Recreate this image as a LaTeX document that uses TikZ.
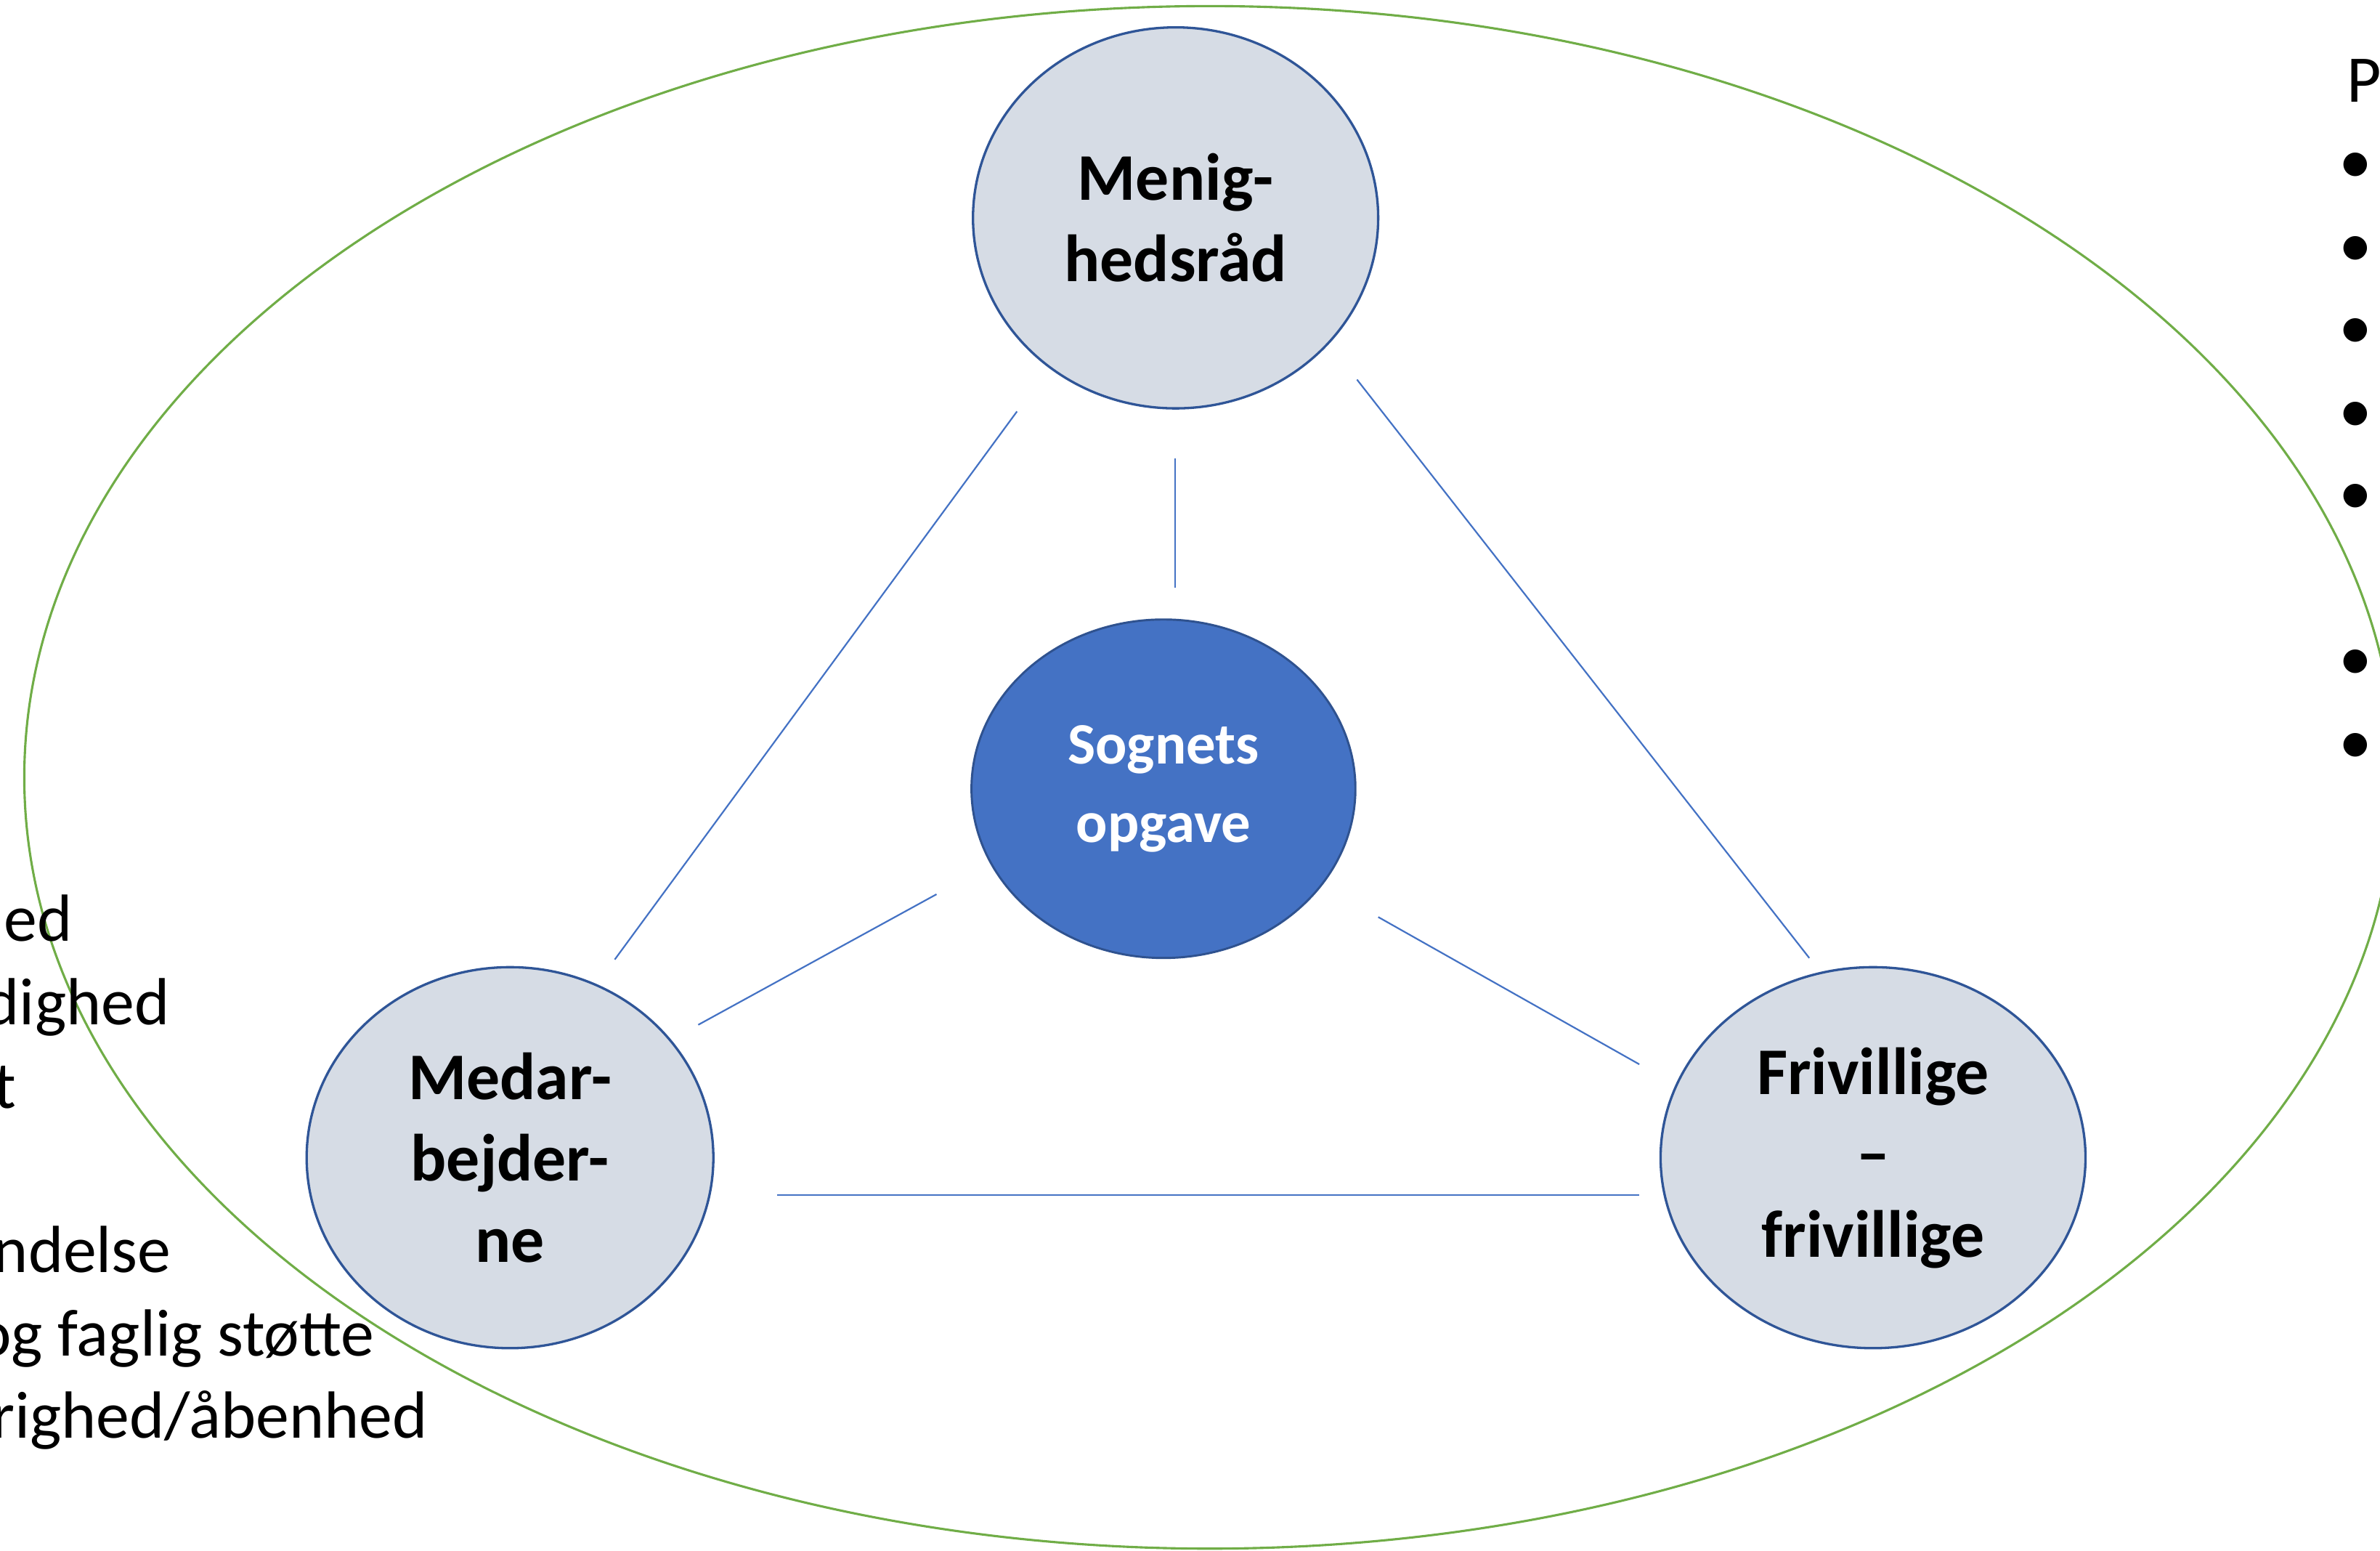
\documentclass[tikz,border=0pt]{standalone}
\usepackage{fontspec}
\setmainfont{Carlito}
\usetikzlibrary{shapes.geometric}
\definecolor{ringgreen}{HTML}{70AD47}
\definecolor{nodefill}{HTML}{D6DCE5}
\definecolor{nodeedge}{HTML}{2F5597}
\definecolor{centerfill}{HTML}{4472C4}
\definecolor{centeredge}{HTML}{2F528F}
\definecolor{linkblue}{HTML}{4472C4}
\begin{document}
\begin{tikzpicture}[x=0.02cm,y=-0.02cm,
  role/.style={ellipse, draw=nodeedge, line width=0.9pt, fill=nodefill, inner sep=0pt,
    align=center, font=\fontsize{25}{30.5}\selectfont\bfseries},
  core/.style={ellipse, draw=centeredge, line width=0.8pt, fill=centerfill, text=white,
    inner sep=0pt, align=center, font=\fontsize{22}{29.5}\selectfont\bfseries},
  link/.style={draw=linkblue, line width=0.6pt},
  sidetext/.style={inner sep=0pt, font=\fontsize{25}{31}\selectfont},
  bulletdot/.style={inner sep=0pt, anchor=base, font=\fontsize{25}{31}\selectfont},
]
\useasboundingbox (0,0) rectangle (1568,1021.55);
\clip (0,0) rectangle (1568,1021.55);

% outer ring
\draw[ringgreen, line width=0.85pt] (797,512) ellipse [x radius=781, y radius=508];

% nodes
\node[role, minimum width=5.34cm, minimum height=5.02cm] (mr) at (774.5,143.5) {Menig-\\hedsråd};
\node[core, minimum width=5.06cm, minimum height=4.46cm] (so) at (766.5,519.5) {Sognets\\opgave};
\node[role, minimum width=5.36cm, minimum height=5.02cm] (mb) at (336,762.5) {Medar-\\bejder-\\ne};
\node[role, minimum width=5.6cm, minimum height=5.02cm] (fr) at (1234,762.5) {Frivillige\\–\\frivillige};

% connector ends
\coordinate (c1a) at (670,271);  \coordinate (c1b) at (405,632);
\coordinate (c2a) at (894,250);  \coordinate (c2b) at (1192,631);
\coordinate (c3a) at (774,302);  \coordinate (c3b) at (774,387);
\coordinate (c4a) at (617,589);  \coordinate (c4b) at (460,675);
\coordinate (c5a) at (908,604);  \coordinate (c5b) at (1080,701);
\coordinate (c6a) at (512,787);  \coordinate (c6b) at (1080,787);
\draw[link] (c1a) -- (c1b);
\draw[link] (c2a) -- (c2b);
\draw[link] (c3a) -- (c3b);
\draw[link] (c4a) -- (c4b);
\draw[link] (c5a) -- (c5b);
\draw[link] (c6a) -- (c6b);

% left list (cut by the page edge)
\node[sidetext, anchor=base east] (l1) at (48,620) {Tryghed};
\node[sidetext, anchor=base east] (l2) at (112,675) {Ligeværdighed};
\node[sidetext, anchor=base east] (l3) at (11,730) {Respekt};
\node[sidetext, anchor=base east] (l5) at (113,838) {Anerkendelse};
\node[sidetext, anchor=base east] (l6) at (247,893) {Personlig og faglig støtte};
\node[sidetext, anchor=base east] (l7) at (282,947) {Nysgerrighed/åbenhed};

% right list (cut by the page edge)
\node[sidetext, anchor=base west] (rp) at (1546,67) {P};
\foreach \i/\yy in {1/108,2/163,3/217,4/272,5/326,6/435,7/490}{
  \node[bulletdot] (rb\i) at (1552,\yy+13) {•};
}
\end{tikzpicture}
\end{document}
